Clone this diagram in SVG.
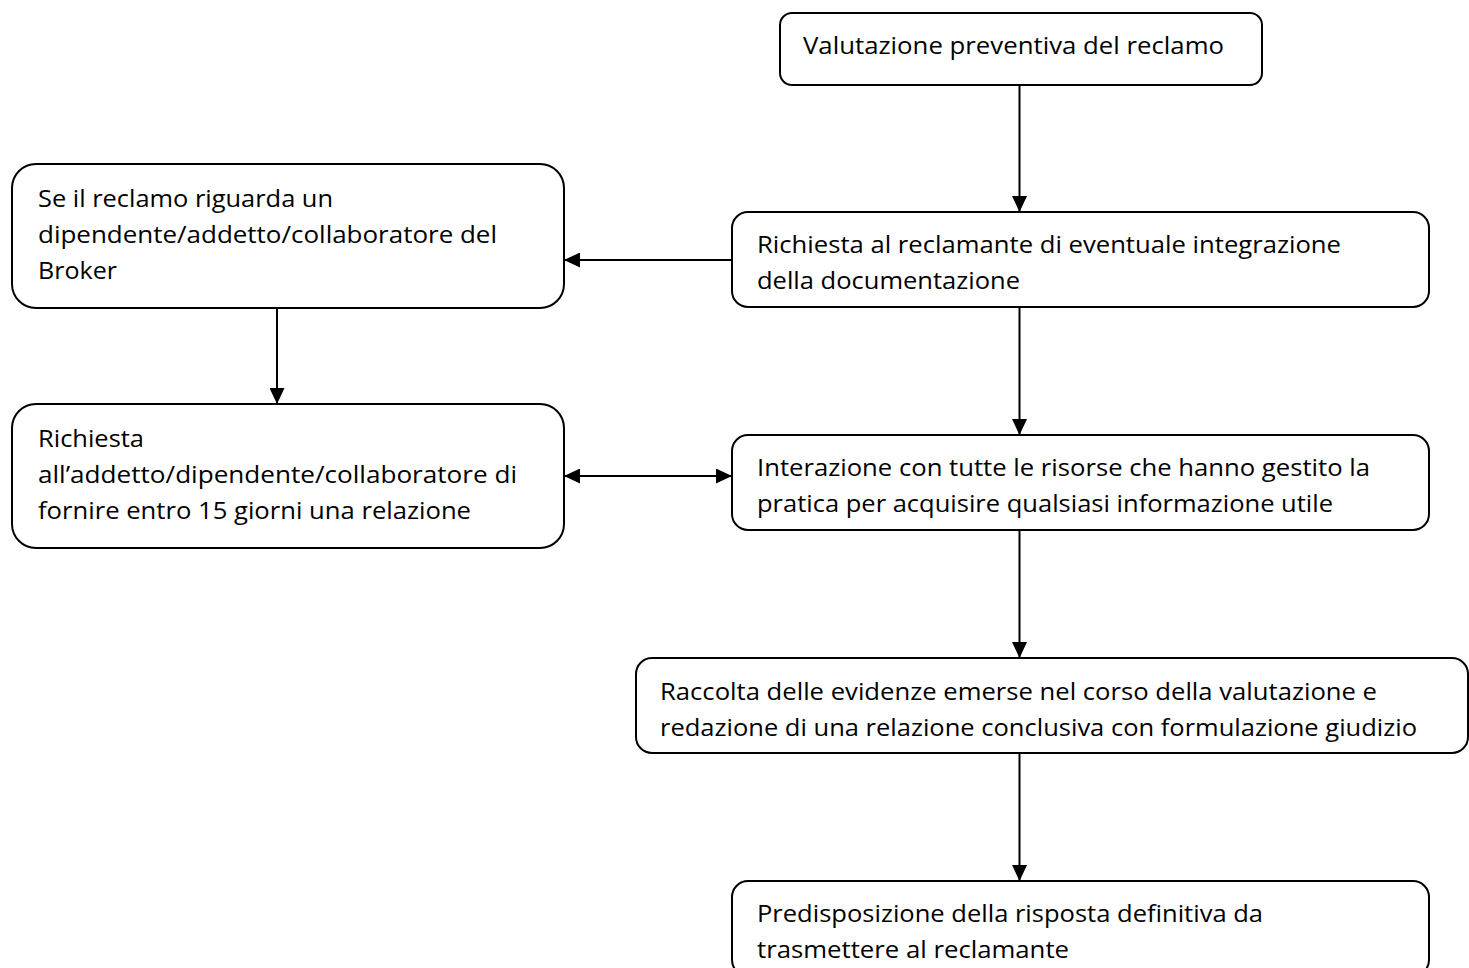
<svg xmlns="http://www.w3.org/2000/svg" width="1469" height="968" viewBox="0 0 1469 968">
<style>
.box{fill:#fff;stroke:#000;stroke-width:2}
.t{font-family:"Open Sans","Liberation Sans",sans-serif;font-size:24px;fill:#000}
.c{fill:none;stroke:#000;stroke-width:2}
</style>
<defs>
<marker id="ah" viewBox="0 0 16 15" refX="16" refY="7.5" markerWidth="16" markerHeight="15" markerUnits="userSpaceOnUse" orient="auto-start-reverse">
<path d="M0,0 L16,7.5 L0,15 Z" fill="#000"/>
</marker>
</defs>
<rect width="1469" height="968" fill="#fff"/>
<g id="connectors">
<line class="c" x1="1019.5" y1="85" x2="1019.5" y2="212" marker-end="url(#ah)"/>
<line class="c" x1="732" y1="260" x2="564" y2="260" marker-end="url(#ah)"/>
<line class="c" x1="277" y1="308" x2="277" y2="404" marker-end="url(#ah)"/>
<line class="c" x1="1019.5" y1="307" x2="1019.5" y2="435" marker-end="url(#ah)"/>
<line class="c" x1="564" y1="476" x2="732" y2="476" marker-start="url(#ah)" marker-end="url(#ah)"/>
<line class="c" x1="1019.5" y1="530" x2="1019.5" y2="658" marker-end="url(#ah)"/>
<line class="c" x1="1019.5" y1="753" x2="1019.5" y2="881" marker-end="url(#ah)"/>
</g>
<g id="n1">
<rect class="box" x="780" y="13" width="482" height="72" rx="12"/>
<text class="t" x="803" y="54" textLength="421" lengthAdjust="spacingAndGlyphs">Valutazione preventiva del reclamo</text>
</g>
<g id="n2">
<rect class="box" x="732" y="212" width="697" height="95" rx="16"/>
<text class="t" x="757" y="253" textLength="584" lengthAdjust="spacingAndGlyphs">Richiesta al reclamante di eventuale integrazione</text>
<text class="t" x="757" y="289" textLength="263" lengthAdjust="spacingAndGlyphs">della documentazione</text>
</g>
<g id="n3">
<rect class="box" x="12" y="164" width="552" height="144" rx="24"/>
<text class="t" x="38" y="207" textLength="295" lengthAdjust="spacingAndGlyphs">Se il reclamo riguarda un</text>
<text class="t" x="38" y="243" textLength="459" lengthAdjust="spacingAndGlyphs">dipendente/addetto/collaboratore del</text>
<text class="t" x="38" y="279" textLength="79" lengthAdjust="spacingAndGlyphs">Broker</text>
</g>
<g id="n4">
<rect class="box" x="12" y="404" width="552" height="144" rx="24"/>
<text class="t" x="38" y="447" textLength="106" lengthAdjust="spacingAndGlyphs">Richiesta</text>
<text class="t" x="38" y="483" textLength="479" lengthAdjust="spacingAndGlyphs">all’addetto/dipendente/collaboratore di</text>
<text class="t" x="38" y="519" textLength="433" lengthAdjust="spacingAndGlyphs">fornire entro 15 giorni una relazione</text>
</g>
<g id="n5">
<rect class="box" x="732" y="435" width="697" height="95" rx="16"/>
<text class="t" x="757" y="476" textLength="613" lengthAdjust="spacingAndGlyphs">Interazione con tutte le risorse che hanno gestito la</text>
<text class="t" x="757" y="512" textLength="576" lengthAdjust="spacingAndGlyphs">pratica per acquisire qualsiasi informazione utile</text>
</g>
<g id="n6">
<rect class="box" x="636" y="658" width="832" height="95" rx="16"/>
<text class="t" x="660" y="700" textLength="717" lengthAdjust="spacingAndGlyphs">Raccolta delle evidenze emerse nel corso della valutazione e</text>
<text class="t" x="660" y="736" textLength="757" lengthAdjust="spacingAndGlyphs">redazione di una relazione conclusiva con formulazione giudizio</text>
</g>
<g id="n7">
<rect class="box" x="732" y="881" width="697" height="95" rx="16"/>
<text class="t" x="757" y="922" textLength="506" lengthAdjust="spacingAndGlyphs">Predisposizione della risposta definitiva da</text>
<text class="t" x="757" y="958" textLength="312" lengthAdjust="spacingAndGlyphs">trasmettere al reclamante</text>
</g>
</svg>
